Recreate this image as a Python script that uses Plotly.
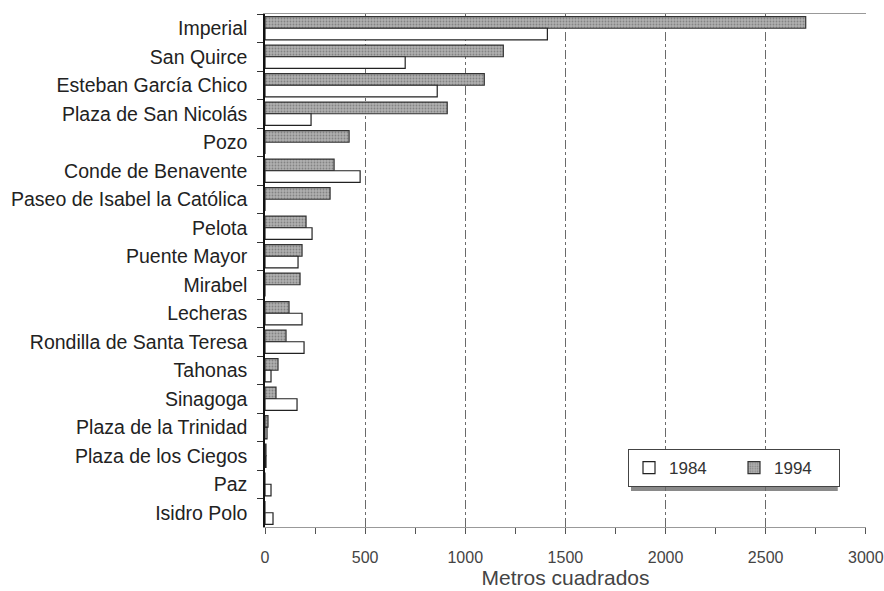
import plotly.graph_objects as go

calles = [
    'Imperial', 'San Quirce', 'Esteban García Chico', 'Plaza de San Nicolás',
    'Pozo', 'Conde de Benavente', 'Paseo de Isabel la Católica', 'Pelota',
    'Puente Mayor', 'Mirabel', 'Lecheras', 'Rondilla de Santa Teresa',
    'Tahonas', 'Sinagoga', 'Plaza de la Trinidad', 'Plaza de los Ciegos',
    'Paz', 'Isidro Polo',
]
m2_1984 = [1410, 700, 860, 230, 0, 475, 0, 235, 165, 0, 185, 195, 30, 160, 10, 5, 30, 40]
m2_1994 = [2700, 1190, 1095, 910, 420, 345, 325, 205, 185, 175, 120, 105, 65, 55, 15, 5, 0, 0]

FONT = 'Liberation Sans, Arial, sans-serif'
GRID = '#6a6a6a'

fig = go.Figure()

# con el eje invertido la primera traza queda arriba en cada grupo
fig.add_trace(go.Bar(
    y=calles, x=m2_1994, orientation='h', name='1994',
    marker=dict(
        color='#b0b0b0', line=dict(color='#333', width=1.2),
        pattern=dict(shape='.', fgcolor='#555555', size=3, solidity=0.3),
    ),
))
fig.add_trace(go.Bar(
    y=calles, x=m2_1984, orientation='h', name='1984',
    marker=dict(color='white', line=dict(color='#222', width=1.2)),
))

# sombra de la leyenda
fig.add_shape(type='rect', xref='paper', yref='paper',
              x0=0.609, x1=0.953, y0=0.070, y1=0.146,
              fillcolor='#8a8a8a', line=dict(width=0), layer='below')

fig.update_layout(
    width=884, height=591,
    barmode='group', bargap=0.18, bargroupgap=0.0,
    margin=dict(l=265, r=18, t=14, b=64, autoexpand=False),
    paper_bgcolor='white', plot_bgcolor='white',
    font=dict(family=FONT, color='#222', size=19),
    legend=dict(
        orientation='h', x=0.604, xanchor='left', y=0.152, yanchor='top',
        bgcolor='white', bordercolor='#444', borderwidth=1,
        font=dict(size=17, color='#333'), traceorder='reversed',
        entrywidth=60,
    ),
)

fig.update_xaxes(
    range=[0, 3001], dtick=500,
    showgrid=True, gridcolor=GRID, griddash='dashdot', gridwidth=1,
    showline=True, linecolor='#999', linewidth=1, mirror=True,
    ticks='outside', ticklen=6, tickcolor='#555',
    minor=dict(dtick=250, ticks='outside', ticklen=6, tickcolor='#555', showgrid=False),
    tickfont=dict(size=16, color='#444'), ticklabelstandoff=10,
    zeroline=False, automargin=False,
    title=dict(text='Metros cuadrados', font=dict(size=21, color='#444'), standoff=4),
)
fig.update_yaxes(
    autorange='reversed', automargin=False,
    showline=True, linecolor='#111', linewidth=1.5,
    ticks='outside', tickson='boundaries', ticklen=6, tickcolor='#333',
    tickfont=dict(size=19.5, color='#222'), ticklabelstandoff=12,
    showgrid=False,
)

# sin el margen por defecto del body, la figura ocupa la ventana entera
fig.write_html('out.html', config={'displayModeBar': False},
               post_script="document.body.style.margin='0';document.body.style.overflow='hidden';")
